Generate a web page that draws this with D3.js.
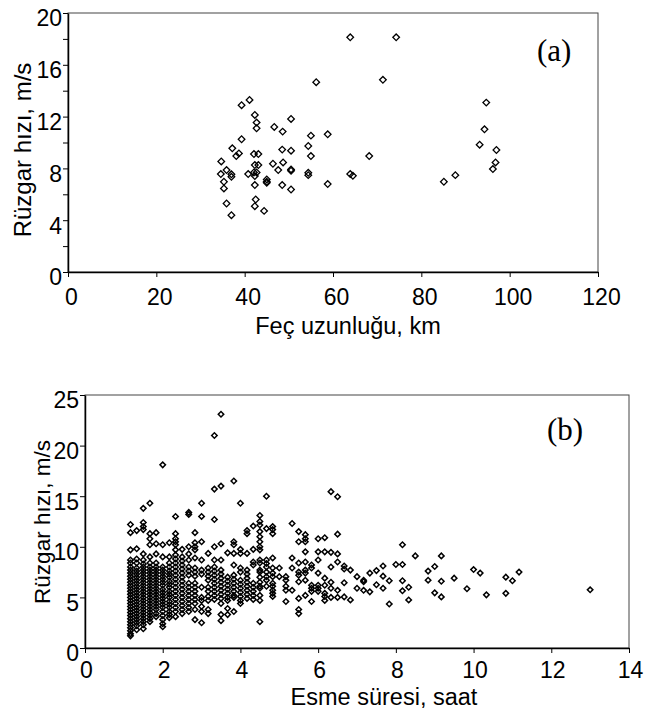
<!DOCTYPE html>
<html>
<head>
<meta charset="utf-8">
<script src="https://cdn.jsdelivr.net/npm/d3@7"></script>
<style>
  body { margin: 0; background: #fff; }
  svg text { font-family: "Liberation Sans", Arial, sans-serif; fill: #000; }
</style>
</head>
<body>
<div class="chart"></div>
<script>
// (a) fetch length vs wind speed
const fetchKm = [34.7, 34.6, 35.3, 35.3, 35.9, 35.9, 37.0, 37.0, 37.0, 37.2, 38.1, 38.7, 39.3, 39.3, 41.1, 40.8, 42.3, 42.7, 42.7, 42.1,
  43.1, 42.3, 43.1, 42.1, 42.7, 42.3, 42.3, 42.5, 42.3, 44.4, 45.0, 45.0, 45.0, 46.7, 46.4, 47.6, 48.6, 48.5, 48.7, 48.5,
  50.5, 50.5, 50.5, 50.5, 50.5, 54.4, 55.0, 55.0, 54.4, 54.4, 56.2, 58.8, 58.8, 63.9, 74.3, 71.3, 63.9, 64.5, 68.2, 85.1,
  87.7, 94.7, 94.3, 93.2, 97.0, 96.8, 96.2];
const speedA = [8.54, 7.56, 6.97, 6.45, 7.87, 5.29, 7.54, 7.35, 4.39, 9.55, 8.95, 9.16, 10.25, 12.88, 13.29, 7.56, 12.13, 11.54, 11.10, 9.11,
  9.11, 8.26, 8.26, 7.69, 7.69, 7.41, 6.71, 5.60, 5.08, 4.72, 7.15, 6.97, 6.89, 11.20, 8.36, 7.87, 10.84, 9.45, 8.46, 6.71,
  11.82, 9.37, 7.92, 7.82, 6.37, 9.73, 10.53, 8.95, 7.66, 7.48, 14.66, 10.63, 6.79, 18.12, 18.12, 14.84, 7.56, 7.43, 8.95, 6.97,
  7.48, 13.08, 11.02, 9.83, 9.42, 8.46, 7.95];

// (b) duration (hours) columns and the wind speeds read in each column
const durations = [1.17, 1.33, 1.5, 1.67, 1.83, 2.0, 2.17, 2.33, 2.5, 2.67, 2.83, 3.0, 3.17, 3.33, 3.5, 3.67, 3.83, 4.0, 4.17, 4.33,
  4.5, 4.67, 4.83, 5.0, 5.17, 5.33, 5.5, 5.67, 5.83, 6.0, 6.17, 6.33, 6.5, 6.67, 6.83, 7.0, 7.17, 7.33, 7.5, 7.67,
  7.83, 8.0, 8.17, 8.33, 8.5, 8.83, 9.0, 9.17, 9.5, 9.83, 10.0, 10.17, 10.33, 10.83, 11.0, 11.17, 13.0];
const speedB = [
  [12.2, 11.4, 9.7, 8.7, 8.4, 8.0, 7.7, 7.4, 7.1, 6.8, 6.5, 6.2, 5.9, 5.6, 5.3, 5.0, 4.7, 4.4, 4.1, 3.8, 3.5, 3.2, 2.9, 2.6, 2.3, 2.0, 1.7, 1.4, 1.2],
  [11.6, 9.8, 8.8, 8.4, 7.9, 7.6, 7.3, 7.0, 6.7, 6.4, 6.1, 5.8, 5.5, 5.2, 4.9, 4.6, 4.3, 4.0, 3.7, 3.4, 3.1, 2.8, 2.5, 2.2, 1.8],
  [13.8, 12.4, 12.0, 11.7, 9.3, 8.7, 8.3, 8.0, 7.7, 7.4, 7.1, 6.8, 6.5, 6.2, 5.9, 5.6, 5.3, 5.0, 4.7, 4.4, 4.1, 3.8, 3.5, 3.2, 2.9, 2.6, 2.3, 1.9],
  [14.3, 11.3, 10.8, 10.2, 9.0, 8.4, 8.0, 7.7, 7.4, 7.1, 6.8, 6.5, 6.2, 5.9, 5.6, 5.3, 5.0, 4.7, 4.4, 4.1, 3.8, 3.5, 3.2, 2.9, 2.6],
  [11.4, 10.3, 9.3, 8.4, 8.0, 7.7, 7.4, 7.1, 6.8, 6.5, 6.2, 5.9, 5.6, 5.3, 5.0, 4.7, 4.4, 4.1, 3.8, 3.4, 3.1],
  [18.1, 10.2, 9.0, 8.0, 7.7, 7.4, 7.1, 6.8, 6.5, 6.2, 5.8, 5.5, 5.2, 4.9, 4.6, 4.3, 4.0, 3.6, 3.2, 2.8, 2.4, 2.1],
  [10.4, 9.0, 8.4, 8.0, 7.6, 7.3, 7.0, 6.6, 6.3, 6.0, 5.6, 5.3, 5.0, 4.6, 4.3, 4.0, 3.6, 3.3, 3.0],
  [13.0, 11.3, 10.8, 10.5, 10.2, 9.7, 9.2, 8.8, 8.4, 8.0, 7.6, 7.2, 6.8, 6.4, 6.0, 5.6, 5.2, 4.8, 4.4, 4.0, 3.6, 3.1],
  [9.75, 9.0, 8.6, 8.2, 7.8, 7.4, 7.0, 6.6, 6.2, 5.8, 5.4, 5.0, 4.6, 4.2, 3.8, 3.4],
  [13.4, 13.2, 10.0, 9.3, 8.7, 8.0, 7.6, 7.2, 6.4, 6.0, 5.6, 5.2, 4.8, 4.4, 4.0, 3.6],
  [11.4, 10.4, 10.0, 9.7, 8.9, 7.9, 7.5, 7.1, 6.4, 6.0, 5.6, 5.2, 4.8, 4.4, 3.8, 2.8],
  [14.3, 13.0, 10.5, 8.7, 7.7, 7.3, 6.0, 5.0, 4.7, 4.1, 3.6, 2.5],
  [9.35, 7.9, 7.5, 7.1, 6.7, 6.0, 5.6, 5.1, 4.7, 3.8, 3.4],
  [21.0, 15.7, 12.7, 10.0, 8.7, 8.0, 7.6, 7.2, 6.8, 6.4, 6.0, 5.6, 5.2, 4.8],
  [23.1, 16.0, 10.3, 8.7, 7.7, 7.3, 6.9, 6.5, 6.1, 5.7, 5.3, 4.9, 4.4, 3.3, 2.7],
  [9.4, 7.0, 6.6, 6.2, 5.8, 5.4, 5.0, 4.7, 3.9, 3.3],
  [16.5, 10.5, 10.2, 9.35, 8.2, 7.2, 6.8, 6.4, 6.0, 5.6, 5.2, 5.0, 3.6],
  [14.3, 9.75, 9.35, 7.9, 7.5, 6.7, 6.3, 5.9, 5.5, 5.1, 4.7, 4.4],
  [11.6, 11.3, 9.35, 7.7, 7.3, 6.9, 6.5, 6.1, 5.7, 5.3, 4.9],
  [12.05, 9.75, 8.5, 8.2, 6.4, 6.0, 5.6, 5.2, 4.8],
  [13.1, 12.5, 12.15, 11.5, 11.0, 10.5, 10.0, 9.7, 8.7, 8.4, 7.7, 7.5, 7.0, 6.5, 6.1, 5.9, 5.2, 4.7, 2.6],
  [15.0, 11.8, 8.7, 8.35, 8.0, 7.5, 7.05, 6.7, 6.1],
  [12.0, 11.7, 11.3, 8.9, 7.9, 7.4, 7.05, 6.4, 6.1, 5.7, 5.4, 5.1],
  [7.9, 7.05],
  [7.05, 6.7, 6.1, 5.7, 4.6],
  [12.3, 8.9, 7.9, 5.7],
  [11.5, 10.5, 8.4, 7.5, 7.2, 6.55, 4.9, 3.8, 3.4],
  [11.2, 10.8, 10.5, 9.5, 8.5, 7.7, 7.4, 6.7, 5.2],
  [8.2, 7.9, 6.2, 5.9, 5.6, 4.6],
  [10.8, 9.5, 8.7, 7.4, 6.2, 5.9, 5.6],
  [10.9, 9.5, 6.9, 6.2, 5.4, 5.1, 4.7],
  [15.45, 9.45, 8.0, 6.5, 5.9, 5.0],
  [14.95, 11.25, 9.3, 8.5, 5.7, 5.0],
  [8.1, 7.8, 6.45, 5.05],
  [7.7, 4.75],
  [7.05, 5.9],
  [6.7, 6.55, 5.7],
  [7.4, 5.55],
  [7.65, 6.25],
  [8.1, 7.1, 5.9],
  [6.65, 4.35],
  [8.25],
  [10.2, 8.25, 6.65, 5.65],
  [6.0, 4.75],
  [9.1],
  [7.6, 6.7],
  [8.05, 5.45],
  [9.1, 6.6, 5.05],
  [6.9],
  [5.85],
  [7.75],
  [7.4],
  [5.25],
  [7.0, 5.4],
  [6.65],
  [7.5],
  [5.75]
];

const yTicksA = [0, 2, 4, 6, 8, 10, 12, 14, 16, 18, 20];
const xTicksA = [0, 20, 40, 60, 80, 100, 120];
const yTicksB = [0, 5, 10, 15, 20, 25];
const xTicksB = [0, 2, 4, 6, 8, 10, 12, 14];

const svg = d3.select('.chart')
  .append('svg')
  .attr('width', 658)
  .attr('height', 711);

function drawPanel(opt) {
  const x = d3.scaleLinear().domain(opt.xDomain).range([opt.left, opt.right]);
  const y = d3.scaleLinear().domain(opt.yDomain).range([opt.bottom, opt.top]);
  const g = svg.append('g');

  // frame
  g.append('rect')
    .attr('x', opt.left).attr('y', opt.top)
    .attr('width', opt.right - opt.left).attr('height', opt.bottom - opt.top)
    .attr('fill', 'none').attr('stroke', '#444').attr('stroke-width', 1);

  const yAxis = g.append('g')
    .attr('transform', `translate(${opt.left},0)`)
    .call(d3.axisLeft(y).tickValues(opt.yTicks).tickSize(5).tickSizeOuter(0).tickPadding(1)
      .tickFormat(d => opt.yLabelEvery && d % opt.yLabelEvery !== 0 ? '' : d));
  yAxis.select('.domain').attr('stroke', '#000').attr('stroke-width', 1.5);
  yAxis.selectAll('text').attr('font-size', 23).attr('dy', '0.56em')
    .style('font-family', '"Liberation Sans", Arial, sans-serif');

  const xAxis = g.append('g')
    .attr('transform', `translate(0,${opt.bottom})`)
    .call(d3.axisBottom(x).tickValues(opt.xTicks).tickSize(5).tickSizeOuter(0).tickPadding(opt.xPad));
  xAxis.select('.domain').attr('stroke', '#000').attr('stroke-width', 1.5);
  xAxis.selectAll('text').attr('font-size', 23).attr('dx', opt.xShift)
    .style('font-family', '"Liberation Sans", Arial, sans-serif');

  const marker = d3.symbol().type(d3.symbolSquare).size(opt.markSize);
  g.selectAll('.pt')
    .data(opt.points)
    .enter()
    .append('path')
    .attr('class', 'pt')
    .attr('d', marker)
    .attr('transform', d => `translate(${x(d[0])},${y(d[1])}) rotate(45)`)
    .attr('fill', 'none')
    .attr('stroke', '#000')
    .attr('stroke-width', opt.markStroke);

  g.append('text')
    .attr('x', opt.xTitlePos[0]).attr('y', opt.xTitlePos[1])
    .attr('text-anchor', 'middle').attr('font-size', 23.5)
    .text(opt.xTitle);

  g.append('text')
    .attr('transform', `translate(${opt.yTitlePos[0]},${opt.yTitlePos[1]}) rotate(-90)`)
    .attr('text-anchor', 'middle').attr('font-size', opt.yTitleSize)
    .text(opt.yTitle);

  g.append('text')
    .attr('x', opt.tagPos[0]).attr('y', opt.tagPos[1])
    .attr('font-size', 31)
    .style('font-family', '"Liberation Serif", "Times New Roman", serif')
    .text(opt.tag);
}

drawPanel({
  left: 68, right: 598, top: 13, bottom: 272,
  xDomain: [0, 120], yDomain: [0, 20],
  xTicks: xTicksA, yTicks: yTicksA, yLabelEvery: 4,
  xPad: 12, xShift: 3,
  points: fetchKm.map((d, i) => [d, speedA[i]]),
  markSize: 22, markStroke: 1.3,
  xTitle: 'Feç uzunluğu, km', xTitlePos: [348, 334],
  yTitle: 'Rüzgar hızı, m/s', yTitlePos: [31, 150], yTitleSize: 24,
  tag: '(a)', tagPos: [537, 61]
});

drawPanel({
  left: 85, right: 629, top: 395, bottom: 648,
  xDomain: [0, 14], yDomain: [0, 25],
  xTicks: xTicksB, yTicks: yTicksB, yLabelEvery: 0,
  xPad: 9, xShift: 1,
  points: durations.flatMap((d, i) => speedB[i].map(v => [d, v])),
  markSize: 15, markStroke: 1.5,
  xTitle: 'Esme süresi, saat', xTitlePos: [384, 705],
  yTitle: 'Rüzgar hızı, m/s', yTitlePos: [50, 522], yTitleSize: 22.5,
  tag: '(b)', tagPos: [547, 440]
});
</script>
</body>
</html>
